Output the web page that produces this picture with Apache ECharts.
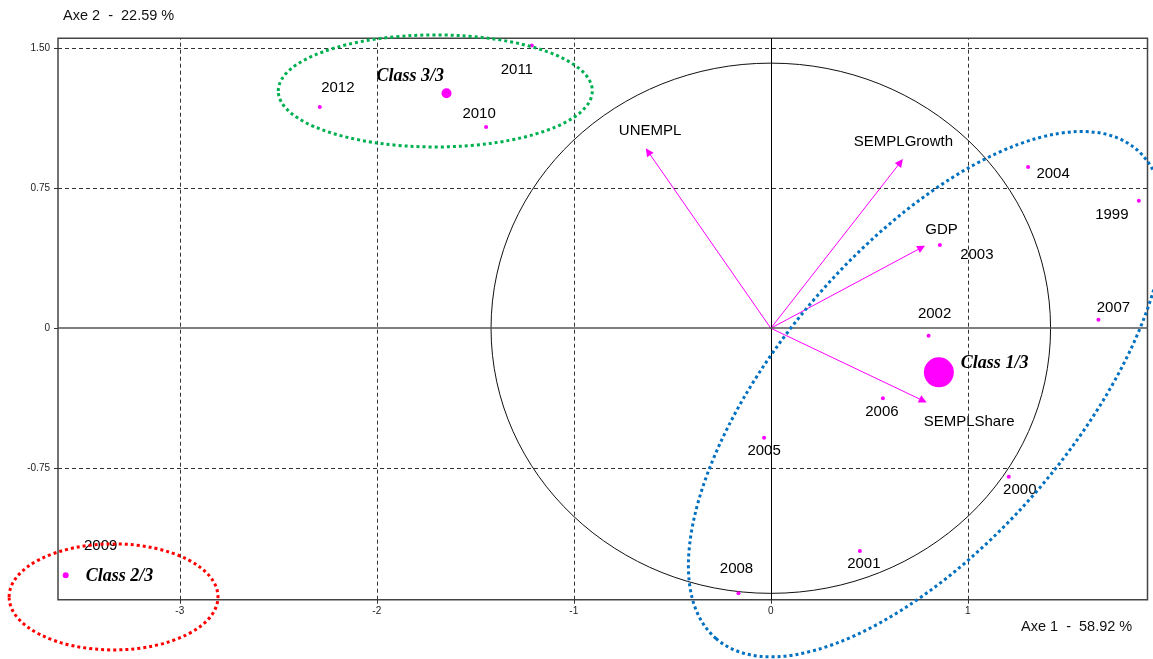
<!DOCTYPE html>
<html><head><meta charset="utf-8">
<script src="https://cdn.jsdelivr.net/npm/echarts@6/dist/echarts.min.js"></script>
<style>html,body{margin:0;padding:0;background:#fff}#c{width:1153px;height:659px}</style>
</head><body><div id="c"></div>
<script>
// ---- data ----
const years = ['1999','2000','2001','2002','2003','2004','2005','2006','2007','2008','2009','2010','2011','2012'];
const yearX = [1.868, 1.208, 0.452, 0.801, 0.858, 1.306, -0.034, 0.569, 1.663, -0.164, -3.579, -1.445, -1.213, -2.289];
const yearY = [0.683, -0.795, -1.193, -0.040, 0.446, 0.864, -0.586, -0.375, 0.046, -1.419, -1.323, 1.078, 1.514, 1.185];

const classNames = ['Class 1/3', 'Class 2/3', 'Class 3/3'];
const classX = [0.853, -3.579, -1.646];
const classY = [-0.236, -1.323, 1.259];

const varNames = ['UNEMPL', 'SEMPLGrowth', 'GDP', 'SEMPLShare'];
const varX = [-0.623, 0.658, 0.765, 0.773];
const varY = [0.946, 0.889, 0.432, -0.388];

const xTicks = [-3, -2, -1, 0, 1];
const yTicks = [-0.75, 0, 0.75, 1.5];
const xRange = [-3.618, 1.912];
const yRange = [-1.454, 1.553];
const circleRadius = 1.42;

const ellipseCX = [-1.703, -3.336, 0.790];
const ellipseCY = [1.271, -1.439, -0.353];
const ellipseRX = [0.797, 0.530, 1.637];
const ellipseRY = [0.300, 0.284, 0.787];
const ellipseAngle = [0, 0, 49.3];

const axis1Title = 'Axe 1  -  58.92 %';
const axis2Title = 'Axe 2  -  22.59 %';

// ---- layout / style ----
const ellipseColors = ['#00B050', '#FF0000', '#0070C0'];
const yearLabelOffset = {
  '1999': [-27, 14], '2000': [11, 13], '2001': [4, 13], '2002': [6, -22], '2003': [37, 10],
  '2004': [25, 7], '2005': [0, 13], '2006': [-1, 14], '2007': [15, -12], '2008': [-2, -24],
  '2009': [35, -29], '2010': [-7, -13], '2011': [-15, 24], '2012': [18, -19]
};
const classLabelOffset = {'Class 1/3': [22, -9], 'Class 2/3': [20, 1], 'Class 3/3': [-70, -17]};
const classSize = {'Class 1/3': 30, 'Class 2/3': 6, 'Class 3/3': 10};
const varLabelOffset = {'UNEMPL': [2, -21], 'SEMPLGrowth': [3, -20], 'GDP': [20, -18], 'SEMPLShare': [46, 21]};

function hasFont(f) {
  const c = document.createElement('canvas').getContext('2d');
  c.font = '40px monospace';
  const a = c.measureText('2012 SEMPLGrowth').width;
  c.font = '40px "' + f + '", monospace';
  const b = c.measureText('2012 SEMPLGrowth').width;
  return Math.abs(a - b) > 0.5;
}
const narrow = hasFont('Liberation Sans Narrow');
const lblFamily = narrow ? '"Liberation Sans Narrow"' : '"Liberation Sans", Arial, sans-serif';
const lblSize = narrow ? 17.5 : 15;

const MAG = '#FF00FF';

const chart = echarts.init(document.getElementById('c'), null, {renderer: 'canvas'});

const gridLines = xTicks.filter(v => v !== 0).map(v => ({xAxis: v}))
  .concat(yTicks.filter(v => v !== 0).map(v => ({yAxis: v})));

function ellipseItem(params, api, stroke, width, dash) {
  const c = api.coord([api.value(0), api.value(1)]);
  const s = api.size([1, 1]);
  return {
    type: 'ellipse',
    x: c[0], y: c[1],
    rotation: api.value(4) * Math.PI / 180,
    shape: {cx: 0, cy: 0, rx: api.value(2) * s[0], ry: api.value(3) * s[1]},
    style: {fill: 'none', stroke: stroke, lineWidth: width, lineDash: dash}
  };
}

const textLabel = {show: true, position: 'inside', formatter: '{b}', align: 'center', verticalAlign: 'middle',
  color: '#000', fontFamily: lblFamily, fontSize: lblSize, opacity: 1};

const option = {
  animation: false,
  backgroundColor: '#fff',
  grid: {left: 58, right: 5.5, top: 38.3, bottom: 59.3, show: true, borderColor: '#444', borderWidth: 1.5, backgroundColor: 'transparent'},
  xAxis: {
    type: 'value', min: xRange[0], max: xRange[1],
    axisLine: {show: false, onZero: false},
    splitLine: {show: false},
    axisTick: {show: true, length: 4, inside: false, customValues: xTicks, lineStyle: {color: '#333'}},
    axisLabel: {customValues: xTicks, margin: 7, fontSize: 10, color: '#222', fontFamily: '"Liberation Sans", Arial', formatter: v => String(v)}
  },
  yAxis: {
    type: 'value', min: yRange[0], max: yRange[1],
    axisLine: {show: false, onZero: false},
    splitLine: {show: false},
    axisTick: {show: true, length: 4, inside: false, customValues: yTicks, lineStyle: {color: '#333'}},
    axisLabel: {customValues: yTicks, margin: 8, fontSize: 10, color: '#222', fontFamily: '"Liberation Sans", Arial',
      formatter: v => (v === 0 ? '0' : v.toFixed(2))}
  },
  graphic: [
    {type: 'text', left: 63, top: 8, style: {text: axis2Title, font: '14.5px "Liberation Sans", Arial', fill: '#111'}},
    {type: 'text', left: 1021, top: 619, style: {text: axis1Title, font: '14.5px "Liberation Sans", Arial', fill: '#111'}}
  ],
  series: [
    {
      type: 'custom', coordinateSystem: 'cartesian2d', silent: true, z: 1,
      encode: {x: 0, y: 1},
      data: [[0, 0, circleRadius, circleRadius, 0]],
      renderItem: (p, api) => ellipseItem(p, api, '#111', 1, null),
      markLine: {
        silent: true, symbol: 'none', label: {show: false},
        lineStyle: {color: '#333', width: 1, type: [4, 3]},
        data: gridLines
      }
    },
    {
      type: 'line', data: [], z: 2, silent: true,
      markLine: {
        silent: true, symbol: 'none', label: {show: false},
        data: [
          {xAxis: 0, lineStyle: {color: '#000', width: 1, type: 'solid'}},
          {yAxis: 0, lineStyle: {color: '#555', width: 1.5, type: 'solid'}}
        ]
      }
    },
    {
      type: 'lines', coordinateSystem: 'cartesian2d', z: 3, silent: true,
      symbol: ['none', 'triangle'], symbolSize: 8,
      lineStyle: {color: MAG, width: 1, opacity: 1},
      data: varNames.map((n, i) => ({coords: [[0, 0], [varX[i], varY[i]]]}))
    },
    {
      type: 'scatter', z: 4, symbolSize: 0, silent: true,
      itemStyle: {opacity: 1},
      data: varNames.map((n, i) => ({name: n, value: [varX[i], varY[i]],
        label: {offset: varLabelOffset[n]}})),
      label: textLabel
    },
    {
      type: 'scatter', z: 5, symbol: 'circle', symbolSize: 4, silent: true,
      itemStyle: {color: MAG, opacity: 1},
      data: years.map((n, i) => ({name: n, value: [yearX[i], yearY[i]],
        label: {offset: yearLabelOffset[n]}})),
      label: textLabel
    },
    {
      type: 'scatter', z: 6, symbol: 'circle', silent: true,
      itemStyle: {color: MAG, opacity: 1},
      data: classNames.map((n, i) => ({name: n, value: [classX[i], classY[i]], symbolSize: classSize[n],
        label: {offset: classLabelOffset[n]}})),
      label: {show: true, position: 'inside', formatter: '{b}', align: 'left', verticalAlign: 'middle',
        color: '#000', fontFamily: '"Liberation Serif", "Times New Roman", serif', fontStyle: 'italic', fontWeight: 'bold', fontSize: 18}
    },
    {
      type: 'custom', coordinateSystem: 'cartesian2d', silent: true, z: 10, clip: false,
      encode: {x: 0, y: 1},
      data: ellipseCX.map((c, i) => [c, ellipseCY[i], ellipseRX[i], ellipseRY[i], ellipseAngle[i]]),
      renderItem: (p, api) => ellipseItem(p, api, ellipseColors[p.dataIndex], 3, [3, 3])
    }
  ]
};
chart.setOption(option);
</script>
</body></html>
